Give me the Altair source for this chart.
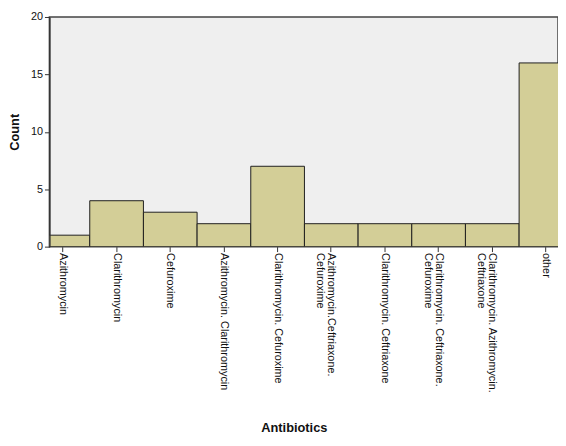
import altair as alt
import pandas as pd

categories = [
    "Azithromycin",
    "Clarithromycin",
    "Cefuroxime",
    "Azithromycin. Clarithromycin",
    "Clarithromycin. Cefuroxime",
    "Azithromycin.Ceftriaxone.\nCefuroxime",
    "Clarithromycin. Ceftriaxone",
    "Clarithromycin. Ceftriaxone.\nCefuroxime",
    "Clarithromycin. Azithromycin.\nCeftriaxone",
    "other",
]
counts = [1, 4, 3, 2, 7, 2, 2, 2, 2, 16]
y_ticks = [0, 5, 10, 15, 20]

df = pd.DataFrame({"Antibiotics": categories, "Count": counts})

FONT = "Liberation Sans"

chart = (
    alt.Chart(df)
    .mark_bar(clip=True, color="#D3CE97", stroke="#1e1e1e", strokeWidth=1)
    .encode(
        x=alt.X(
            "Antibiotics:N",
            sort=categories,
            scale=alt.Scale(range=[-13.5, 531], paddingInner=0, paddingOuter=0),
            axis=alt.Axis(
                title="Antibiotics",
                labelAngle=90,
                labelAlign="left",
                labelBaseline="middle",
                labelFontSize=11,
                labelLineHeight=11,
                labelFont=FONT,
                labelColor="#111",
                labelPadding=1,
                labelExpr="split(datum.label, '\\n')",
                labelOverlap=False,
                labelBound=False,
                labelLimit=300,
                domain=False,
                tickSize=5,
                tickColor="#333",
                titleFont=FONT,
                titleFontSize=13,
                titleFontWeight="bold",
                titleColor="#111",
                titleBaseline="middle",
                titleX=248,
                titleY=184,
            ),
        ),
        y=alt.Y(
            "Count:Q",
            scale=alt.Scale(domain=[0, 20], nice=False),
            axis=alt.Axis(
                title="Count",
                values=y_ticks,
                grid=False,
                labelFont=FONT,
                labelFontSize=11,
                labelColor="#111",
                labelPadding=2,
                tickSize=5,
                tickColor="#333",
                domainColor="#333",
                domainWidth=1.5,
                titleFont=FONT,
                titleFontSize=13,
                titleFontWeight="bold",
                titleColor="#111",
                titlePadding=9,
                zindex=1,
            ),
        ),
    )
    .properties(
        width=516,
        height=233,
        autosize=alt.AutoSizeParams(type="none"),
        padding={"left": 42, "top": 6, "right": 0, "bottom": 191},
        background="white",
    )
    .configure_view(fill="#EFEFEF", stroke="#444", strokeWidth=1.5)
)

chart.save("out.html", embed_options={"renderer": "svg", "actions": False})
